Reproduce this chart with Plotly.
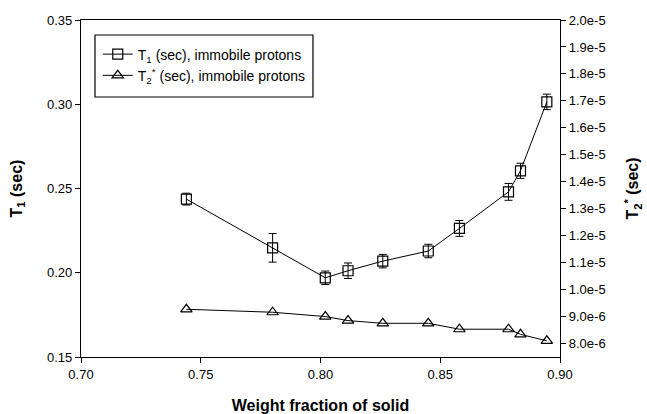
import plotly.graph_objects as go

# Data
weight_fraction = [0.744, 0.780, 0.802, 0.8115, 0.826, 0.845, 0.858, 0.8785, 0.8835, 0.8945]
t1_sec = [0.2437, 0.2148, 0.1970, 0.2012, 0.2069, 0.2129, 0.2263, 0.2480, 0.2605, 0.3014]
t1_err = [0.0035, 0.0085, 0.0040, 0.0046, 0.0040, 0.0040, 0.0047, 0.0050, 0.0045, 0.0046]
t2_sec = [9.27e-6, 9.16e-6, 9.0e-6, 8.85e-6, 8.75e-6, 8.75e-6, 8.53e-6, 8.53e-6, 8.34e-6, 8.10e-6]

left_tick_vals = [0.15, 0.20, 0.25, 0.30, 0.35]
x_tick_vals = [0.70, 0.75, 0.80, 0.85, 0.90]
right_tick_vals = [8.0e-6, 9.0e-6, 1.0e-5, 1.1e-5, 1.2e-5, 1.3e-5, 1.4e-5, 1.5e-5,
                   1.6e-5, 1.7e-5, 1.8e-5, 1.9e-5, 2.0e-5]
right_tick_text = ["8.0e-6", "9.0e-6", "1.0e-5", "1.1e-5", "1.2e-5", "1.3e-5", "1.4e-5",
                   "1.5e-5", "1.6e-5", "1.7e-5", "1.8e-5", "1.9e-5", "2.0e-5"]

font_family = "Liberation Sans, Arial, sans-serif"

fig = go.Figure()
fig.add_trace(go.Scatter(
    x=weight_fraction, y=t1_sec, mode="lines+markers",
    name="T<sub>1</sub> (sec), immobile protons",
    line=dict(color="black", width=1),
    marker=dict(symbol="square-open", size=10, color="black", line=dict(width=1.2)),
    error_y=dict(type="data", array=t1_err, visible=True, color="black", thickness=1, width=4),
    yaxis="y",
))
fig.add_trace(go.Scatter(
    x=weight_fraction, y=t2_sec, mode="lines+markers",
    name="T<sub>2</sub><sup>*</sup> (sec), immobile protons",
    line=dict(color="black", width=1),
    marker=dict(symbol="triangle-up-open", size=10, color="black", line=dict(width=1.2)),
    yaxis="y2",
))

axis_common = dict(showline=True, linecolor="black", linewidth=1.3, ticks="outside",
                   ticklen=5, tickcolor="black", showgrid=False, zeroline=False,
                   automargin=False,
                   tickfont=dict(family=font_family, size=13, color="black"))
title_font = dict(family=font_family, size=16, color="black")

fig.update_layout(
    width=647, height=414,
    margin=dict(l=81, r=87, t=20, b=57),
    paper_bgcolor="white", plot_bgcolor="white",
    font=dict(family=font_family, color="black"),
    showlegend=True,
    legend=dict(x=0.035, y=0.945, xanchor="left", yanchor="top",
                borderwidth=0, bgcolor="rgba(0,0,0,0)",
                font=dict(family=font_family, size=14, color="black"),
                tracegroupgap=0),
    shapes=[dict(type="rect", xref="paper", yref="paper",
                 x0=0.0292, x1=0.4843, y0=0.7715, y1=0.9555,
                 line=dict(color="black", width=1.2), fillcolor="white", layer="below")],
    xaxis=dict(range=[0.70, 0.90], tickvals=x_tick_vals,
               tickformat=".2f", mirror=True,
               title=dict(text="<b>Weight fraction of solid</b>", standoff=22, font=title_font),
               **axis_common),
    yaxis=dict(range=[0.15, 0.35], tickvals=left_tick_vals,
               tickformat=".2f",
               title=dict(text="<b>T<sub>1</sub> (sec)</b>", standoff=20, font=title_font),
               **axis_common),
    yaxis2=dict(range=[7.5e-6, 2.0e-5], overlaying="y", side="right",
                tickvals=right_tick_vals, ticktext=right_tick_text,
                title=dict(text="<b>T<sub>2</sub><sup>*</sup> (sec)</b>", standoff=22,
                           font=title_font),
                **axis_common),
)

fig.write_html("out.html")
